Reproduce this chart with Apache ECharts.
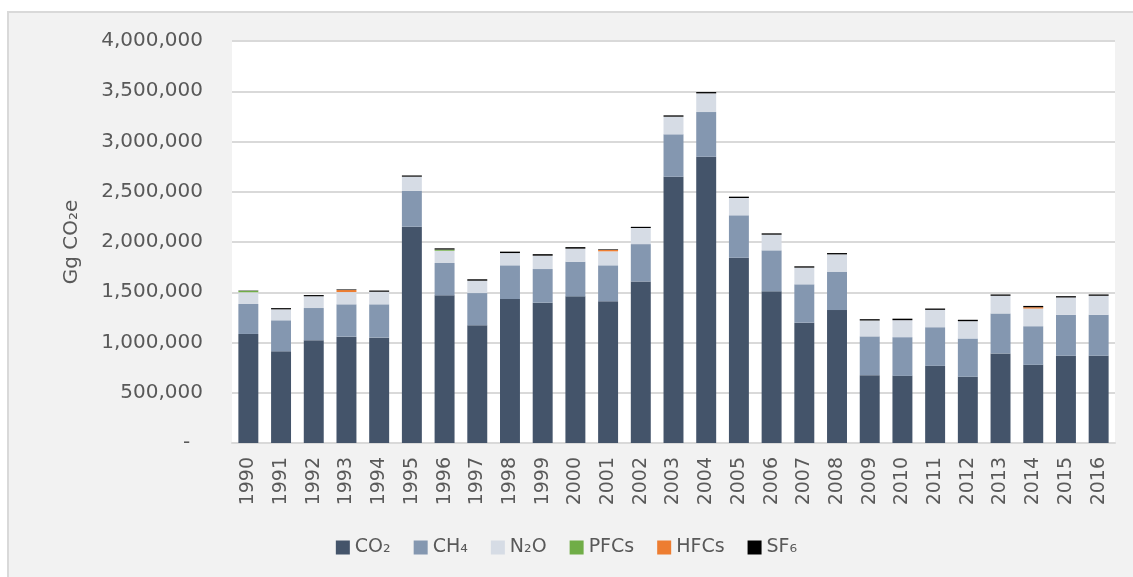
<!DOCTYPE html>
<html>
<head>
<meta charset="utf-8">
<title>Gg CO2e 1990-2016</title>
<script src="https://cdn.jsdelivr.net/npm/echarts@6/dist/echarts.min.js"></script>
<style>
html, body {
    margin: 0;
    padding: 0;
    width: 1133px;
    height: 577px;
    background: #ffffff;
    overflow: hidden;
}
/* 灰色外框 */
.frame {
    position: absolute;
    left: 7px;
    top: 11px;
    right: 0;
    bottom: 0;
    background: #f2f2f2;
    border-top: 2px solid #d9d9d9;
    border-left: 2px solid #d9d9d9;
}
#main {
    position: absolute;
    left: 0;
    top: 0;
    width: 1133px;
    height: 577px;
}
</style>
</head>
<body>
<div class="frame"></div>
<div id="main"></div>
<script>
// 年份
var years = ['1990','1991','1992','1993','1994','1995','1996','1997','1998','1999',
             '2000','2001','2002','2003','2004','2005','2006','2007','2008','2009',
             '2010','2011','2012','2013','2014','2015','2016'];

// 各气体排放量 (Gg CO2e)
var co2  = [1085000, 912000, 1022000, 1058000, 1048000, 2152000, 1469000, 1171000, 1433000, 1396000,
            1459000, 1410000, 1607000, 2650000, 2849000, 1844000, 1509000, 1197000, 1323000, 675000,
            668000, 768000, 659000, 891000, 778000, 868000, 868000];
var ch4  = [298000, 309000, 321000, 322000, 332000, 358000, 322000, 321000, 335000, 335000,
            345000, 358000, 372000, 421000, 444000, 421000, 408000, 382000, 382000, 386000,
            385000, 384000, 381000, 398000, 384000, 408000, 408000];
var n2o  = [117000, 109000, 117000, 122000, 125000, 140000, 122000, 123000, 122000, 133000,
            130000, 139000, 160000, 176000, 186000, 173000, 156000, 166000, 172000, 158000,
            169000, 173000, 172000, 176000, 176000, 172000, 189000];
var pfcs = [14000, 0, 0, 0, 0, 0, 12000, 0, 0, 0,
            0, 0, 0, 0, 0, 0, 0, 0, 0, 0,
            0, 0, 0, 0, 0, 0, 0];
var hfcs = [0, 0, 0, 20000, 0, 0, 0, 0, 0, 0,
            0, 14000, 0, 0, 0, 0, 0, 0, 0, 0,
            0, 0, 0, 0, 13000, 0, 0];
var sf6  = [3000, 12000, 12000, 6000, 12000, 12000, 12000, 14000, 14000, 15000,
            15000, 6000, 12000, 13000, 13000, 13000, 13000, 13000, 13000, 13000,
            15000, 13000, 14000, 13000, 13000, 13000, 13000];

var seriesNames = ['CO₂', 'CH₄', 'N₂O', 'PFCs', 'HFCs', 'SF₆'];
var seriesData = [co2, ch4, n2o, pfcs, hfcs, sf6];
var colors = ['#44546a', '#8497b0', '#d6dce5', '#70ad47', '#ed7d31', '#000000'];

var yTicks = { min: 0, max: 4000000, interval: 500000 };

var textColor = '#595959';
var fontName = 'DejaVu Sans';

var myChart = echarts.init(document.getElementById('main'));

var series = [];
for (var i = 0; i < seriesNames.length; i++) {
    series.push({
        name: seriesNames[i],
        type: 'bar',
        stack: 'total',
        barWidth: '61%',
        itemStyle: { color: colors[i] },
        data: seriesData[i]
    });
}

var option = {
    backgroundColor: 'transparent',
    animation: false,
    color: colors,
    grid: {
        left: 232,
        right: 18,
        top: 41,
        bottom: 134,
        show: true,
        backgroundColor: '#ffffff',
        borderWidth: 0
    },
    legend: {
        bottom: 15,
        left: 'center',
        icon: 'rect',
        itemWidth: 14,
        itemHeight: 14,
        itemGap: 23,
        textStyle: {
            color: textColor,
            fontFamily: fontName,
            fontSize: 19
        },
        data: seriesNames
    },
    xAxis: {
        type: 'category',
        data: years,
        axisTick: { show: false },
        axisLine: { lineStyle: { color: '#d9d9d9', width: 2 } },
        axisLabel: {
            rotate: 90,
            margin: 14,
            interval: 0,
            color: textColor,
            fontFamily: fontName,
            fontSize: 19
        }
    },
    yAxis: {
        type: 'value',
        min: yTicks.min,
        max: yTicks.max,
        interval: yTicks.interval,
        name: 'Gg CO₂e',
        nameLocation: 'middle',
        nameRotate: 90,
        nameGap: 150,
        nameTextStyle: {
            color: textColor,
            fontFamily: fontName,
            fontSize: 20
        },
        axisLine: { show: false },
        axisTick: { show: false },
        splitLine: { lineStyle: { color: '#d9d9d9', width: 2 } },
        axisLabel: {
            margin: 29,
            color: textColor,
            fontFamily: fontName,
            fontSize: 20,
            // 0 显示为 "-"
            formatter: function (v) {
                return v === 0 ? '-\u00a0\u00a0' : v.toLocaleString('en-US');
            }
        }
    },
    series: series
};

myChart.setOption(option);
</script>
</body>
</html>
